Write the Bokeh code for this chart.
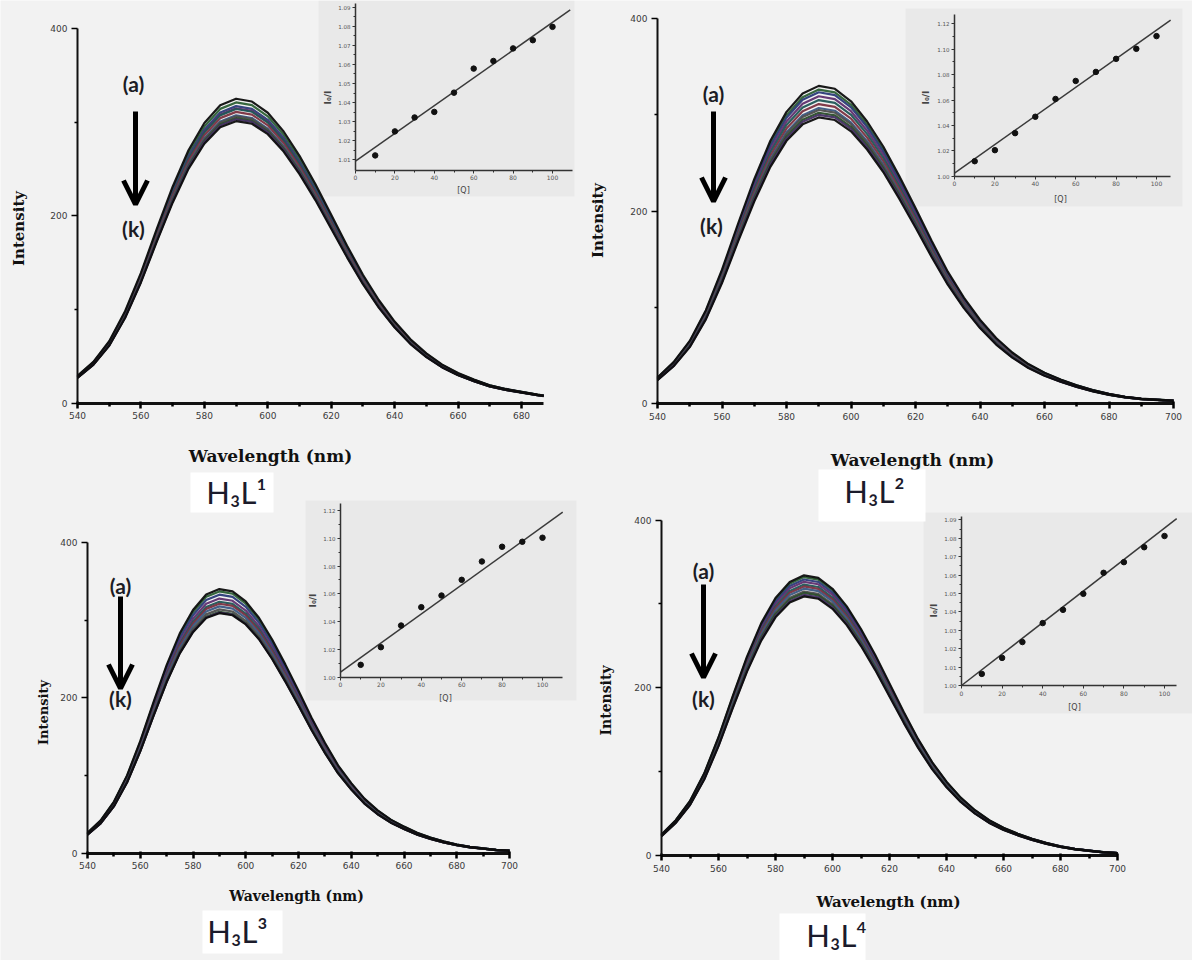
import math
from bokeh.plotting import figure
from bokeh.models import (Range1d, LinearAxis, FixedTicker, Label, Arrow, OpenHead,
                          BoxAnnotation, PrintfTickFormatter)
from bokeh.embed import file_html
from bokeh.resources import INLINE

# ---------------- data ----------------
curve_labels = ["a", "b", "c", "d", "e", "f", "g", "h", "i", "j", "k"]

wavelength_1 = [540, 545, 550, 555, 560, 565, 570, 575, 580, 585, 590, 595, 600, 605, 610,
                615, 620, 625, 630, 635, 640, 645, 650, 655, 660, 665, 670, 675, 680, 685, 687]
intensity_a_1 = [29, 44, 66, 98, 139, 186, 231, 270, 299, 318, 325, 322, 310, 290, 264,
                 234, 201, 168, 137, 110, 87, 68, 53, 41, 32, 25, 19, 15, 12, 9, 8]

wavelength_2 = [540, 545, 550, 555, 560, 565, 570, 575, 580, 585, 590, 595, 600, 605, 610,
                615, 620, 625, 630, 635, 640, 645, 650, 655, 660, 665, 670, 675, 680, 685,
                690, 695, 700]
intensity_a_2 = [27, 43, 65, 97, 139, 187, 233, 273, 303, 322, 330, 327, 314, 293, 267,
                 236, 203, 169, 137, 110, 87, 68, 53, 41, 32, 25, 19, 14, 10, 7, 5, 4, 3]

wavelength_3 = wavelength_2
intensity_a_3 = [26, 42, 66, 100, 144, 194, 242, 283, 313, 333, 340, 337, 324, 303, 275,
                 243, 209, 174, 142, 113, 90, 70, 55, 43, 34, 26, 20, 15, 11, 8, 6, 4, 3]

wavelength_4 = wavelength_2
intensity_a_4 = [25, 42, 65, 98, 141, 190, 237, 277, 307, 326, 334, 331, 318, 297, 270,
                 239, 205, 171, 139, 111, 88, 69, 54, 42, 33, 26, 20, 15, 11, 8, 6, 4, 3]

quencher = [10, 20, 30, 40, 50, 60, 70, 80, 90, 100]
ratio_1 = [1.0123, 1.0249, 1.0322, 1.0351, 1.0452, 1.0578, 1.0618, 1.0684, 1.0727, 1.0797]
ratio_2 = [1.0118, 1.0205, 1.0339, 1.0468, 1.0608, 1.0750, 1.0821, 1.0924, 1.1003, 1.1103]
ratio_3 = [1.0089, 1.0216, 1.0372, 1.0504, 1.0588, 1.0701, 1.0833, 1.0939, 1.0975, 1.1004]
ratio_4 = [1.0063, 1.0150, 1.0236, 1.0339, 1.0411, 1.0498, 1.0612, 1.0670, 1.0751, 1.0812]

fit_q_1, fit_r_1 = [0, 109], [1.0093, 1.0886]
fit_q_2, fit_r_2 = [0, 107], [1.0024, 1.1229]
fit_q_3, fit_r_3 = [0, 110], [1.0036, 1.1188]
fit_q_4, fit_r_4 = [0, 106], [1.0000, 1.0906]

panel_names = ["H₃L¹", "H₃L²", "H₃L³", "H₃L⁴"]
wl_ticks_1 = [540, 560, 580, 600, 620, 640, 660, 680]
wl_ticks_2 = [540, 560, 580, 600, 620, 640, 660, 680, 700]
int_ticks = [0, 200, 400]
q_ticks = [0, 20, 40, 60, 80, 100]
r_ticks_1 = [1.01, 1.02, 1.03, 1.04, 1.05, 1.06, 1.07, 1.08, 1.09]
r_ticks_2 = [1.00, 1.02, 1.04, 1.06, 1.08, 1.10, 1.12]
r_ticks_3 = [1.00, 1.02, 1.04, 1.06, 1.08, 1.10, 1.12]
r_ticks_4 = [1.00, 1.01, 1.02, 1.03, 1.04, 1.05, 1.06, 1.07, 1.08, 1.09]

# ---------------- layout (reference pixel positions) ----------------
PX0, PX1, PY0, PY1 = 0, 1192, 0, 960
BG = "#f2f2f2"
INSET_BG = "#e9e9e9"
curve_colors = ["#0d0d0d", "#2c5f34", "#2b3b78", "#5e2f6e", "#1f5656", "#7a3040",
                "#3a5782", "#4d4d4d", "#2a4d2a", "#452f63", "#0d0d0d"]
TICK_FONT = "DejaVu Sans"
AXTITLE_FONT = "DejaVu Serif"
NOTE_FONT = "Lato"


def rng(p0, v0, p1, v1, a, b):
    s = (p1 - p0) / (v1 - v0)
    return Range1d(start=v0 + (a - p0) / s, end=v0 + (b - p0) / s)


mains = [
    dict(wl=wavelength_1, i0=intensity_a_1, ratio=ratio_1, x=(77, 540, 521, 680), y=(402.5, 0, 28, 400),
         xb=(540, 687), xt=wl_ticks_1, ylab=(18, 228), xlab=(270, 455), fs="17px", yfs="15px",
         a=(133, 83), arr=(135, 111, 204), k=(133, 228), name=(236, 491), box=(190, 472, 273, 512)),
    dict(wl=wavelength_2, i0=intensity_a_2, ratio=ratio_2, x=(657, 540, 1173, 700), y=(403, 0, 18, 400),
         xb=(540, 700), xt=wl_ticks_2, ylab=(597, 220), xlab=(912, 459), fs="17px", yfs="15px",
         a=(713, 93), arr=(713, 111, 201), k=(711, 225), name=(874, 490), box=(818, 469, 925, 521)),
    dict(wl=wavelength_3, i0=intensity_a_3, ratio=ratio_3, x=(87, 540, 509, 700), y=(852.5, 0, 542, 400),
         xb=(540, 700), xt=wl_ticks_2, ylab=(43, 712), xlab=(296, 895), fs="14px", yfs="13px",
         a=(120, 585), arr=(120, 596, 688), k=(120, 698), name=(237, 930), box=(202, 910, 282, 953)),
    dict(wl=wavelength_4, i0=intensity_a_4, ratio=ratio_4, x=(661, 540, 1117, 700), y=(855, 0, 519.5, 400),
         xb=(540, 700), xt=wl_ticks_2, ylab=(605, 700), xlab=(888, 901), fs="15px", yfs="14px",
         a=(703, 570), arr=(703, 584, 677), k=(703, 698), name=(836, 934), box=(779, 913, 865, 960)),
]

insets = [
    dict(q=quencher, r=ratio_1, fq=fit_q_1, fr=fit_r_1, x=(355, 0, 552, 100), y=(159.3, 1.01, 6.7, 1.09),
         xb=(0, 110), yb=(1.0044, 1.092), xloc=1.0044, rt=r_ticks_1, rstep=0.005,
         bg=(318, 0, 574, 196), ytitle=(327, 97), xtitle=(463, 190)),
    dict(q=quencher, r=ratio_2, fq=fit_q_2, fr=fit_r_2, x=(954, 0, 1156, 100), y=(175.7, 1.00, 23.3, 1.12),
         xb=(0, 107), yb=(1.0, 1.127), xloc=1.0, rt=r_ticks_2, rstep=0.01,
         bg=(905, 8, 1182, 206), ytitle=(925, 97), xtitle=(1060, 199)),
    dict(q=quencher, r=ratio_3, fq=fit_q_3, fr=fit_r_3, x=(340, 0, 542, 100), y=(676.7, 1.00, 510, 1.12),
         xb=(0, 110), yb=(1.0, 1.125), xloc=1.0, rt=r_ticks_3, rstep=0.01,
         bg=(305, 500, 576, 700), ytitle=(312, 600), xtitle=(445, 698)),
    dict(q=quencher, r=ratio_4, fq=fit_q_4, fr=fit_r_4, x=(961, 0, 1164, 100), y=(685, 1.00, 519.3, 1.09),
         xb=(0, 106), yb=(1.0, 1.092), xloc=1.0, rt=r_ticks_4, rstep=0.005,
         bg=(923, 512, 1192, 713), ytitle=(933, 610), xtitle=(1074, 707)),
]

p = figure(width=PX1 - PX0, height=PY1 - PY0, x_range=Range1d(PX0, PX1), y_range=Range1d(PY1, PY0),
           output_backend="svg", toolbar_location=None, x_axis_type=None, y_axis_type=None,
           min_border=0, outline_line_color=None, background_fill_color=BG, border_fill_color=BG)

xr, yr = {}, {}
for n, m in enumerate(mains):
    xr[f"m{n}x"] = rng(*m["x"], PX0, PX1)
    yr[f"m{n}y"] = rng(*m["y"], PY1, PY0)
for n, s in enumerate(insets):
    xr[f"i{n}x"] = rng(*s["x"], PX0, PX1)
    yr[f"i{n}y"] = rng(*s["y"], PY1, PY0)
p.extra_x_ranges = xr
p.extra_y_ranges = yr

# ---------------- inset backgrounds (underlay) ----------------
for s in insets:
    l, t, r, b = s["bg"]
    p.add_layout(BoxAnnotation(left=l, right=r, top=t, bottom=b, fill_color=INSET_BG,
                               fill_alpha=1.0, line_color=None, level="underlay"))

# ---------------- main spectra panels ----------------
for n, m in enumerate(mains):
    xn, yn = f"m{n}x", f"m{n}y"
    factors = [1.0] + m["ratio"]
    order = list(range(1, 10)) + [10, 0]
    for i in order:
        ys = [v / factors[i] for v in m["i0"]]
        p.line(m["wl"], ys, x_range_name=xn, y_range_name=yn, line_color=curve_colors[i],
               line_width=2.2, line_alpha=0.95, line_join="round")

    minor_x = [t + 10 for t in m["xt"] if t + 10 <= m["xb"][1]]
    xa = LinearAxis(x_range_name=xn, y_range_name=yn, fixed_location=0, bounds=m["xb"],
                    ticker=FixedTicker(ticks=m["xt"], minor_ticks=minor_x),
                    axis_line_width=3, axis_line_color="#111111",
                    major_tick_in=2, major_tick_out=5, major_tick_line_width=2.5,
                    minor_tick_in=1, minor_tick_out=3, minor_tick_line_width=2.5,
                    major_label_text_font=TICK_FONT, major_label_text_font_size="9px",
                    major_label_text_color="#3a3a3a", major_label_standoff=4)
    p.add_layout(xa, "below")
    ya = LinearAxis(x_range_name=xn, y_range_name=yn, fixed_location=540, bounds=(0, 400),
                    ticker=FixedTicker(ticks=int_ticks, minor_ticks=[100, 300]),
                    axis_line_width=2, axis_line_color="#111111",
                    major_tick_in=0, major_tick_out=6, major_tick_line_width=1.5,
                    minor_tick_in=0, minor_tick_out=3, minor_tick_line_width=1.5,
                    major_label_text_font=TICK_FONT, major_label_text_font_size="9px",
                    major_label_text_color="#3a3a3a", major_label_standoff=4)
    p.add_layout(ya, "left")

    p.add_layout(Label(x=m["ylab"][0], y=m["ylab"][1], text="Intensity", angle=math.pi / 2,
                       text_align="center", text_baseline="middle",
                       text_font=AXTITLE_FONT, text_font_style="bold",
                       text_font_size=m["yfs"], text_color="#111111"))
    p.add_layout(Label(x=m["xlab"][0], y=m["xlab"][1], text="Wavelength (nm)",
                       text_align="center", text_baseline="middle",
                       text_font=AXTITLE_FONT, text_font_style="bold",
                       text_font_size=m["fs"], text_color="#111111"))

    p.add_layout(Label(x=m["a"][0], y=m["a"][1], text="(" + curve_labels[0] + ")",
                       text_align="center", text_baseline="middle", text_font=NOTE_FONT,
                       text_font_style="bold", text_font_size="21px", text_color="#1c1c24"))
    p.add_layout(Label(x=m["k"][0], y=m["k"][1], text="(" + curve_labels[-1] + ")",
                       text_align="center", text_baseline="middle", text_font=NOTE_FONT,
                       text_font_style="bold", text_font_size="21px", text_color="#1c1c24"))
    ax, ay0, ay1 = m["arr"]
    p.add_layout(Arrow(x_start=ax, y_start=ay0, x_end=ax, y_end=ay1, line_width=5,
                       line_color="#000000",
                       end=OpenHead(size=24, line_width=5, line_color="#000000")))

    bx0, by0, bx1, by1 = m["box"]
    p.add_layout(BoxAnnotation(left=bx0, right=bx1, top=by0, bottom=by1, fill_color="white",
                               fill_alpha=1.0, line_color=None))
    p.add_layout(Label(x=m["name"][0], y=m["name"][1], text=panel_names[n], text_align="center",
                       text_baseline="middle", text_font=NOTE_FONT,
                       text_font_size="31px", text_color="#1b1b2b"))

# ---------------- Stern-Volmer insets ----------------
for n, s in enumerate(insets):
    xn, yn = f"i{n}x", f"i{n}y"
    p.line(s["fq"], s["fr"], x_range_name=xn, y_range_name=yn, line_color="#3a3a3a", line_width=1.5)
    p.scatter(s["q"], s["r"], x_range_name=xn, y_range_name=yn, size=5.5, color="#111111")

    xa = LinearAxis(x_range_name=xn, y_range_name=yn, fixed_location=s["xloc"], bounds=s["xb"],
                    ticker=FixedTicker(ticks=q_ticks, minor_ticks=[10, 30, 50, 70, 90]),
                    axis_line_width=1.5, axis_line_color="#333333",
                    major_tick_in=0, major_tick_out=3, minor_tick_in=0, minor_tick_out=2,
                    major_tick_line_color="#333333", minor_tick_line_color="#333333",
                    major_label_text_font=TICK_FONT, major_label_text_font_size="6px",
                    major_label_text_color="#555555", major_label_standoff=2)
    p.add_layout(xa, "below")
    rt = s["rt"]
    minor_r = [round(v + s["rstep"], 3) for v in rt if v + s["rstep"] < s["yb"][1]]
    ya = LinearAxis(x_range_name=xn, y_range_name=yn, fixed_location=0, bounds=s["yb"],
                    ticker=FixedTicker(ticks=rt, minor_ticks=minor_r),
                    formatter=PrintfTickFormatter(format="%.2f"),
                    axis_line_width=1.5, axis_line_color="#333333",
                    major_tick_in=0, major_tick_out=3, minor_tick_in=0, minor_tick_out=2,
                    major_tick_line_color="#333333", minor_tick_line_color="#333333",
                    major_label_text_font=TICK_FONT, major_label_text_font_size="5.5px",
                    major_label_text_color="#555555", major_label_standoff=2)
    p.add_layout(ya, "left")
    p.add_layout(Label(x=s["ytitle"][0], y=s["ytitle"][1], text="I₀/I", angle=math.pi / 2,
                       text_align="center", text_baseline="middle", text_font=TICK_FONT,
                       text_font_style="bold", text_font_size="9px", text_color="#444444"))
    p.add_layout(Label(x=s["xtitle"][0], y=s["xtitle"][1], text="[Q]", text_align="center",
                       text_baseline="middle", text_font=TICK_FONT, text_font_size="8px",
                       text_color="#444444"))

open("out.html", "w").write(file_html(p, INLINE))
